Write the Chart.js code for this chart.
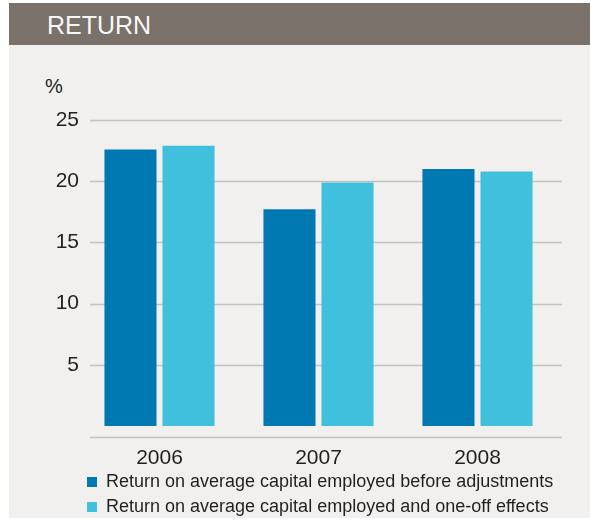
<!DOCTYPE html>
<html>
<head>
<meta charset="utf-8">
<script src="https://cdn.jsdelivr.net/npm/chart.js@4/dist/chart.umd.min.js"></script>
<style>
  html, body { margin: 0; padding: 0; background: #fff; }
  #wrap { position: relative; width: 591px; height: 521px; overflow: hidden; }
  #panel { position: absolute; left: 9px; top: 3px; width: 581px; height: 515px; background: #f1f0ee; }
  #head { position: absolute; left: 0; top: 0; width: 581px; height: 42px; background: #7a716b; }
  #head span { position: absolute; left: 38px; top: 8px; font: 25px "Liberation Sans", Arial, sans-serif; color: #f8f8f8; }
  #unit { position: absolute; left: 45px; top: 75px; font: 20px "Liberation Sans", Arial, sans-serif; color: #231f20; }
  #c { position: absolute; left: 0; top: 0; }
</style>
</head>
<body>
<div id="wrap">
  <div id="panel"><div id="head"><span>RETURN</span></div></div>
  <div id="unit">%</div>
  <canvas id="c" width="591" height="521"></canvas>
</div>
<script>
'use strict';

// Datos
const years = ['2006', '2007', '2008'];
const beforeAdjustments = [22.6, 17.7, 21.0];
const oneOffEffects = [22.9, 19.9, 20.8];
const yTicks = [5, 10, 15, 20, 25];
const seriesNames = [
  'Return on average capital employed before adjustments',
  'Return on average capital employed and one-off effects'
];

const FONT = "'Liberation Sans', Arial, sans-serif";
const TEXT = '#231f20';

// Líneas de guía detrás de las barras, un poco más anchas que el área
const guideLines = {
  id: 'guideLines',
  beforeDatasetsDraw(chart) {
    const { ctx, chartArea, scales } = chart;
    const x0 = chartArea.left + 10, x1 = chartArea.right + 5;
    ctx.save();
    ctx.strokeStyle = '#c4c2c0';
    ctx.lineWidth = 1.5;
    scales.y.ticks.forEach(t => {
      const py = Math.round(scales.y.getPixelForValue(t.value)) + 0.5;
      ctx.beginPath(); ctx.moveTo(x0, py); ctx.lineTo(x1, py); ctx.stroke();
    });
    // línea base bajo las barras
    const by = Math.round(scales.y.getPixelForValue(0)) + 11.5;
    ctx.beginPath(); ctx.moveTo(x0, by); ctx.lineTo(x1, by); ctx.stroke();
    ctx.restore();
  }
};

new Chart(document.getElementById('c'), {
  type: 'bar',
  data: {
    labels: years,
    datasets: [
      { label: seriesNames[0], data: beforeAdjustments, backgroundColor: '#0078b2' },
      { label: seriesNames[1], data: oneOffEffects, backgroundColor: '#40c0dc' }
    ]
  },
  options: {
    responsive: false,
    animation: false,
    layout: { padding: { left: 0, right: 34, top: 120, bottom: 0 } },
    datasets: { bar: { barPercentage: 0.897, categoryPercentage: 0.73 } },
    plugins: {
      legend: {
        position: 'bottom',
        align: 'start',
        fullSize: false,
        maxHeight: 55,
        labels: {
          boxWidth: 10, boxHeight: 10, padding: 7,
          color: TEXT, font: { family: FONT, size: 18 }
        }
      },
      tooltip: { enabled: false }
    },
    scales: {
      x: {
        grid: { display: false, drawTicks: false },
        border: { display: false },
        ticks: { color: TEXT, font: { family: FONT, size: 21 }, padding: 20 },
        afterFit(s) { s.height = 40; }
      },
      y: {
        min: 0, max: 25,
        grid: { display: false, drawTicks: false },
        border: { display: false },
        ticks: { color: TEXT, font: { family: FONT, size: 21 }, padding: 1 },
        afterBuildTicks(s) { s.ticks = yTicks.map(v => ({ value: v })); },
        afterFit(s) { s.width = 80; }
      }
    }
  },
  plugins: [guideLines]
});
</script>
</body>
</html>
